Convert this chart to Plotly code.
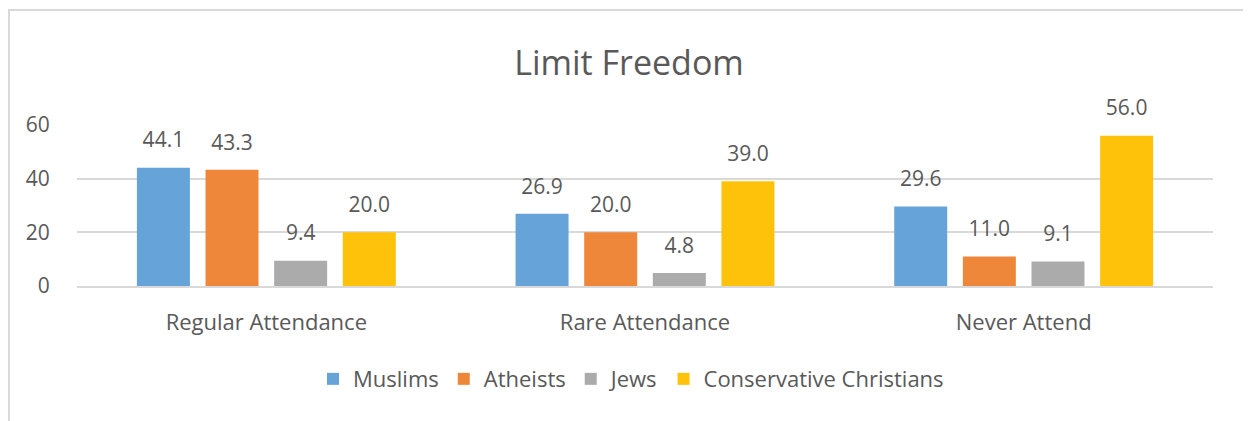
import plotly.graph_objects as go

categories = ["Regular Attendance", "Rare Attendance", "Never Attend"]
series_names = ["Muslims", "Atheists", "Jews", "Conservative Christians"]
muslims = [44.1, 26.9, 29.6]
atheists = [43.3, 20.0, 11.0]
jews = [9.4, 4.8, 9.1]
conservative_christians = [20.0, 39.0, 56.0]
y_ticks = [0, 20, 40, 60]

colors = ["#66A3D9", "#EE8739", "#ABABAB", "#FFC20A"]
text_color = "#595959"
grid_color = "#D9D9D9"
font_family = "Open Sans"

# page body has an 8px margin, so the figure is drawn 8px smaller
W, H = 1243, 413
ml, mr, mt, mb = 69, 38, 117, 135
pw, ph = W - ml - mr, H - mt - mb

fig = go.Figure()

for name, values, color in zip(
    series_names, [muslims, atheists, jews, conservative_christians], colors
):
    fig.add_trace(
        go.Bar(
            x=categories,
            y=values,
            name=name,
            marker_color=color,
            marker_line_width=0,
            # small base font + blank second line = Excel-like gap above bar
            texttemplate="<span style='font-size:21px'>%{y:.1f}</span><br> ",
            textposition="outside",
            textfont=dict(size=11, color=text_color, family=font_family),
            constraintext="none",
            cliponaxis=False,
        )
    )

fig.update_layout(
    width=W,
    height=H,
    margin=dict(l=ml, r=mr, t=mt, b=mb),
    paper_bgcolor="white",
    plot_bgcolor="white",
    font=dict(family=font_family, color=text_color, size=21),
    title=dict(
        text="Limit Freedom",
        x=(629 - 8) / W,
        xanchor="center",
        y=1 - 55 / H,
        yanchor="middle",
        font=dict(size=34, color=text_color, family=font_family),
    ),
    barmode="group",
    bargap=0.275,
    bargroupgap=0.228,
    showlegend=True,
    legend=dict(
        orientation="h",
        x=0.4877,
        xanchor="center",
        y=-0.578,
        yanchor="middle",
        font=dict(size=22, color=text_color, family=font_family),
        itemwidth=30,
        traceorder="normal",
    ),
    shapes=[
        dict(
            type="rect",
            xref="paper",
            yref="paper",
            x0=(1 - ml) / pw,
            x1=(1241 - ml) / pw,
            y0=-1.0,
            y1=(278 - 2) / ph,
            line=dict(color=grid_color, width=2),
            fillcolor="rgba(0,0,0,0)",
            layer="below",
        )
    ],
)

fig.update_xaxes(
    showgrid=False,
    showline=True,
    linecolor=grid_color,
    linewidth=2,
    ticks="outside",
    ticklen=16,
    tickcolor="rgba(0,0,0,0)",
    tickfont=dict(size=22, color=text_color),
)
fig.update_yaxes(
    range=[0, 60],
    tickvals=y_ticks,
    showgrid=True,
    gridcolor=grid_color,
    gridwidth=2,
    zeroline=False,
    showline=False,
    ticks="outside",
    ticklen=22,
    tickcolor="rgba(0,0,0,0)",
    tickfont=dict(size=21, color=text_color),
)

fig.write_html("out.html")
